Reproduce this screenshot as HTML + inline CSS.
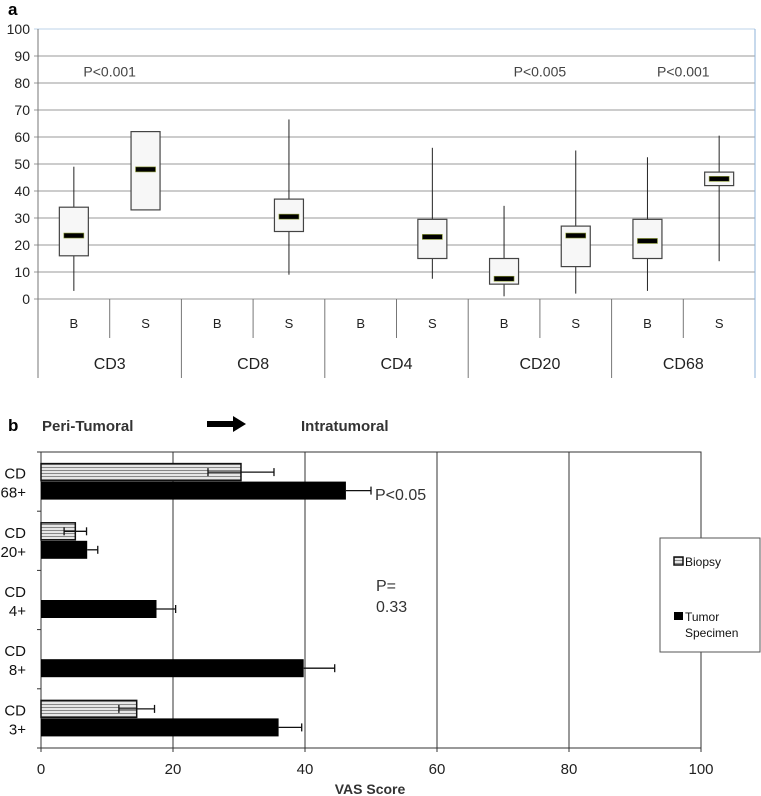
<!DOCTYPE html>
<html><head><meta charset="utf-8"><style>
body{margin:0;background:#fff;}
svg{display:block;font-family:"Liberation Sans",sans-serif;}
</style></head><body>
<svg width="761" height="796" viewBox="0 0 761 796">
<defs>
<pattern id="stripes" width="4" height="3" patternUnits="userSpaceOnUse">
<rect width="4" height="3" fill="#e6e6e6"/><rect y="2" width="4" height="1" fill="#888"/>
</pattern>
</defs>
<text x="8" y="15" font-size="17" font-weight="bold">a</text>
<g id="chartA"></g>
<text x="8" y="431" font-size="17" font-weight="bold">b</text>
<text x="42" y="431" font-size="15" font-weight="bold" fill="#333">Peri-Tumoral</text>
<path d="M207 421 L233 421 L233 416 L246 424 L233 432 L233 427 L207 427 Z" fill="#000"/>
<text x="301" y="431" font-size="15" font-weight="bold" fill="#333">Intratumoral</text>
<g id="chartB"></g>
</svg>
<script>
// ---- Chart A data ----
const groupsA = ["CD3","CD8","CD4","CD20","CD68"];
const subLabelsA = ["B","S","B","S","B","S","B","S","B","S"];
const boxMin = [3,null,null,9,null,7.5,1,2,3,14];
const boxQ1 = [16,33,null,25,null,15,5.5,12,15,42];
const boxMed = [23.5,48,null,30.5,null,23,7.5,23.5,21.5,44.5];
const boxQ3 = [34,62,null,37,null,29.5,15,27,29.5,47];
const boxMax = [49,null,null,66.5,null,56,34.5,55,52.5,60.5];
const yTicksA = [0,10,20,30,40,50,60,70,80,90,100];
const pLabelsA = ["P<0.001","P<0.005","P<0.001"];
const pGroupsA = [0,3,4];

// ---- Chart B data ----
const catsB = ["CD 3+","CD 8+","CD 4+","CD 20+","CD 68+"];
const biopsyVals = [14.5,null,null,5.2,30.3];
const biopsyErr = [2.7,null,null,1.7,5];
const tumorVals = [36,39.8,17.5,7,46.2];
const tumorErr = [3.5,4.7,2.9,1.6,3.8];
const xTicksB = [0,20,40,60,80,100];

const NS="http://www.w3.org/2000/svg";
function mk(parent,tag,attrs,text){const e=document.createElementNS(NS,tag);for(const k in attrs)e.setAttribute(k,attrs[k]);if(text!==undefined)e.textContent=text;parent.appendChild(e);return e;}

// Chart A
(function(){
const g=document.getElementById('chartA');
const x0=38,x1=755,y0=299,y1=29;
const ys=v=>y0-(v/100)*(y0-y1);
const slot=(x1-x0)/subLabelsA.length;
const xc=i=>x0+slot*(i+0.5);
yTicksA.forEach(t=>{
 const l=mk(g,'line',{x1:x0-4,x2:x1,y1:ys(t),y2:ys(t),stroke:t===100?'#bcd3ea':'#999','stroke-width':1});
 
 const tx=mk(g,'text',{x:x0-8,y:ys(t)+5,'font-size':14,'text-anchor':'end',fill:'#222'},String(t));
 
});
mk(g,'line',{x1:x0,x2:x0,y1:y1,y2:378,stroke:'#777'});
mk(g,'line',{x1:x1,x2:x1,y1:y1,y2:378,stroke:'#8fb3d9'});
for(let i=1;i<subLabelsA.length;i++){
 const xx=x0+slot*i;
 mk(g,'line',{x1:xx,x2:xx,y1:y0,y2:i%2===0?378:338,stroke:'#777'});
}
subLabelsA.forEach((s,i)=>{
 const t=mk(g,'text',{x:xc(i),y:328,'font-size':13,'text-anchor':'middle',fill:'#222'},s);
 
});
groupsA.forEach((s,i)=>{
 const t=mk(g,'text',{x:x0+slot*(2*i+1),y:369,'font-size':16,'text-anchor':'middle',fill:'#222'},s);
 
});
const bw=29;
subLabelsA.forEach((s,i)=>{
 if(boxQ1[i]==null)return;
 const cx=xc(i);
 const bg=mk(g,'g',{});
 
 
 if(boxMax[i]!=null)mk(bg,'line',{x1:cx,x2:cx,y1:ys(boxMax[i]),y2:ys(boxQ3[i]),stroke:'#222'});
 if(boxMin[i]!=null)mk(bg,'line',{x1:cx,x2:cx,y1:ys(boxMin[i]),y2:ys(boxQ1[i]),stroke:'#222'});
 mk(bg,'rect',{x:cx-bw/2,y:ys(boxQ3[i]),width:bw,height:ys(boxQ1[i])-ys(boxQ3[i]),fill:'#f7f7f7',stroke:'#444','stroke-width':1.2});
 mk(bg,'rect',{x:cx-10,y:ys(boxMed[i])-2.5,width:20,height:5,fill:'#000',stroke:'#8a9a30','stroke-width':0.6});
});
pLabelsA.forEach((p,k)=>{
 const gi=pGroupsA[k];
 const t=mk(g,'text',{x:x0+slot*(2*gi+1),y:ys(82.5),'font-size':14,'text-anchor':'middle',fill:'#444'},p);
 
});
})();

// Chart B
(function(){
const g=document.getElementById('chartB');
const x0=41,x1=701,yT=452,yB=748;
const xs=v=>x0+(v/100)*(x1-x0);
const band=(yB-yT)/catsB.length;
mk(g,'rect',{x:x0,y:yT,width:x1-x0,height:yB-yT,fill:'none',stroke:'#333'});
xTicksB.forEach(t=>{
 if(t>0&&t<100){const l=mk(g,'line',{x1:xs(t),x2:xs(t),y1:yT,y2:yB,stroke:'#333'});
 }
 mk(g,'line',{x1:xs(t),x2:xs(t),y1:yB,y2:yB+4,stroke:'#333'});
 const tx=mk(g,'text',{x:xs(t),y:774,'font-size':15,'text-anchor':'middle',fill:'#222'},String(t));
 
});
for(let i=0;i<=catsB.length;i++)mk(g,'line',{x1:x0-4,x2:x0,y1:yT+band*i,y2:yT+band*i,stroke:'#333'});
const vl=mk(g,'text',{x:370,y:794,'font-size':14,'font-weight':'bold','text-anchor':'middle',fill:'#333'},'VAS Score');

catsB.forEach((c,i)=>{
 const top=yB-band*(i+1);
 const parts=c.split(' ');
 const t1=mk(g,'text',{x:26,y:top+band/2-3,'font-size':15,'text-anchor':'end',fill:'#111'},parts[0]);
 
 const t2=mk(g,'text',{x:26,y:top+band/2+16,'font-size':15,'text-anchor':'end',fill:'#111'},parts[1]);
 
 const bh=17;
 const yb=top+band/2-bh-1, yt=top+band/2;
 if(biopsyVals[i]!=null){
  const r=mk(g,'rect',{x:x0,y:yb,width:xs(biopsyVals[i])-x0,height:bh,fill:'url(#stripes)',stroke:'#111','stroke-width':1.5});
  
  const e=biopsyErr[i],cy=yb+bh/2;
  mk(g,'line',{x1:xs(biopsyVals[i]-e),x2:xs(biopsyVals[i]+e),y1:cy,y2:cy,stroke:'#111','stroke-width':1.3});
  mk(g,'line',{x1:xs(biopsyVals[i]-e),x2:xs(biopsyVals[i]-e),y1:cy-4,y2:cy+4,stroke:'#111','stroke-width':1.3});
  mk(g,'line',{x1:xs(biopsyVals[i]+e),x2:xs(biopsyVals[i]+e),y1:cy-4,y2:cy+4,stroke:'#111','stroke-width':1.3});
 }
 const r2=mk(g,'rect',{x:x0,y:yt,width:xs(tumorVals[i])-x0,height:bh+1,fill:'#000'});
 
 const e2=tumorErr[i],cy2=yt+(bh+1)/2;
 mk(g,'line',{x1:xs(tumorVals[i]),x2:xs(tumorVals[i]+e2),y1:cy2,y2:cy2,stroke:'#111','stroke-width':1.3});
 mk(g,'line',{x1:xs(tumorVals[i]+e2),x2:xs(tumorVals[i]+e2),y1:cy2-4,y2:cy2+4,stroke:'#111','stroke-width':1.3});
});
const p1=mk(g,'text',{x:375,y:500,'font-size':16,fill:'#333'},'P<0.05');

const p2=mk(g,'text',{x:376,y:591,'font-size':16,fill:'#333'},'P=');

const p3=mk(g,'text',{x:376,y:612,'font-size':16,fill:'#333'},'0.33');

// legend
const lg=mk(g,'g',{});

mk(lg,'rect',{x:660,y:538,width:100,height:114,fill:'#fff',stroke:'#555'});
const l1=mk(lg,'g',{});

mk(l1,'rect',{x:674,y:557,width:9,height:8,fill:'url(#stripes)',stroke:'#111','stroke-width':1.5});
mk(l1,'text',{x:685,y:566,'font-size':12,fill:'#111'},'Biopsy');
const l2=mk(lg,'g',{});

mk(l2,'rect',{x:674,y:612,width:9,height:8,fill:'#000'});
mk(l2,'text',{x:685,y:621,'font-size':12,fill:'#111'},'Tumor');
mk(l2,'text',{x:685,y:637,'font-size':12,fill:'#111'},'Specimen');
})();
</script>
</body></html>
